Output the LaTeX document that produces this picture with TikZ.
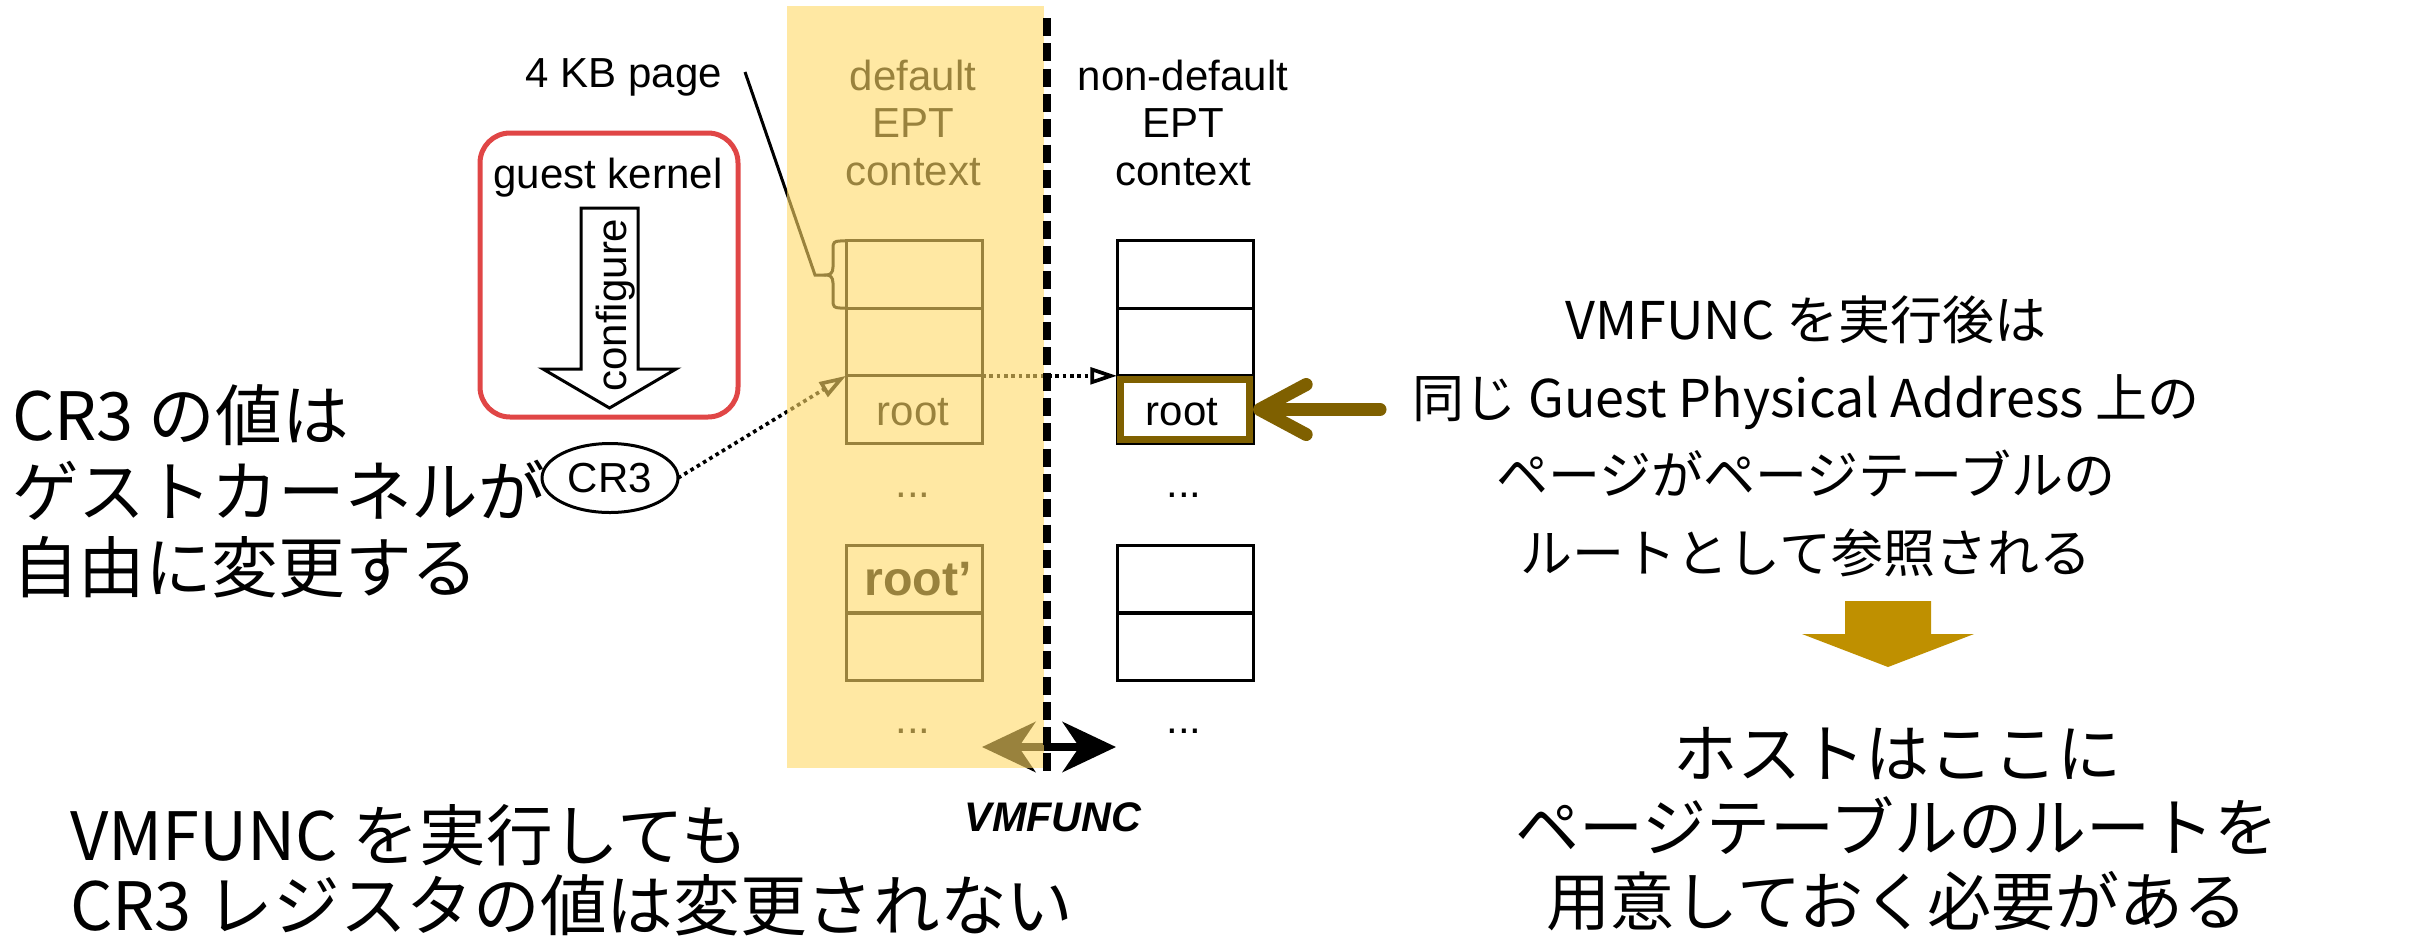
\documentclass[tikz,border=0pt]{standalone}
\usepackage{fontspec}
\setmainfont{Liberation Sans}
\newfontfamily\jp{Noto Sans CJK JP}
\usetikzlibrary{arrows.meta,shapes.geometric}
\definecolor{ovl}{HTML}{FFD966}
\definecolor{darkgold}{HTML}{7F6000}
\definecolor{gold}{HTML}{BF9000}
\definecolor{kred}{HTML}{E04646}
\begin{document}
\begin{tikzpicture}[x=0.3pt,y=-0.3pt,
  lbl/.style={font=\fontsize{12.6}{14}\selectfont, inner sep=0pt, outer sep=0pt},
  big/.style={font=\jp\fontsize{20}{24}\selectfont, inner sep=0pt, outer sep=0pt},
  hostt/.style={font=\jp\fontsize{19.2}{23}\selectfont, inner sep=0pt, outer sep=0pt},
  mid/.style={font=\jp\fontsize{15.6}{19}\selectfont, inner sep=0pt, outer sep=0pt},
  cellbox/.style={draw, line width=0.9pt, minimum width=40.8pt, minimum height=20.2pt, inner sep=0pt, outer sep=0pt},
  dotline/.style={line width=1.1pt, dash pattern=on 1.1pt off 1.1pt},
  opentip/.style={-{Triangle[open,length=8pt,width=5pt]}}
]
\useasboundingbox (0,0) rectangle (2415,940);

% ---------- default EPT context (drawn black, tinted by overlay) ----------
\node[lbl, anchor=base] (dT1) at (913,90) {default};
\node[lbl, anchor=base] (dT2) at (913,137) {EPT};
\node[lbl, anchor=base] (dT3) at (913,185) {context};

\node[cellbox] (dA) at (914,274.5) {};
\node[cellbox] (dB) at (914,342) {};
\node[cellbox] (dRoot) at (914,409.5) {};
\node[lbl, anchor=base] (dRootT) at (913,425) {root};
\node[lbl, anchor=base] (dDots1) at (913,497) {...};
\node[cellbox] (dC) at (914,579) {};
\node[cellbox] (dD) at (914,647) {};
\node[font=\fontsize{14.5}{16}\selectfont\bfseries, inner sep=0pt, anchor=base] (dRootP) at (918,595) {root’};
\node[lbl, anchor=base] (dDots2) at (913,733) {...};

% brace and 4 KB page pointer
\node[lbl, anchor=base] (kb) at (624,87) {4 KB page};
\coordinate (kbL) at (745,72);
\coordinate (brTip) at (815,275);
\draw[line width=0.9pt] (kbL) -- (brTip) -- (826,275);
\draw[line width=0.9pt] (dA.north west) -- (840,241) .. controls (834,241) and (833,243) .. (833,248)
  -- (833,267) .. controls (833,273) and (830,275) .. (826,275)
  .. controls (830,275) and (833,277) .. (833,283) -- (833,301)
  .. controls (833,306) and (834,308) .. (840,308) -- (dA.south west);

% guest kernel
\node[draw=kred, line width=1.5pt, rounded corners=9pt, minimum width=77.4pt, minimum height=85.2pt, inner sep=0pt] (gk) at (609,275) {};
\node[lbl, anchor=base] (gkT) at (608,188) {guest kernel};
\draw[line width=0.9pt, fill=white] (581,208) -- (638,208) -- (638,369) -- (676,369) -- (609.5,408) -- (543,369) -- (581,369) -- cycle;
\node[lbl, anchor=base, rotate=90] (cfg) at (626,305) {configure};

% CR3
\node[draw, ellipse, line width=0.9pt, minimum width=40.8pt, minimum height=20.7pt, inner sep=0pt, lbl] (cr3) at (610,478) {CR3};
\draw[dotline, opentip] (cr3.east) -- (dRoot.north west);

% ---------- non-default EPT context ----------
\node[lbl, anchor=base] (nT1) at (1183,90) {non-default};
\node[lbl, anchor=base] (nT2) at (1183,137) {EPT};
\node[lbl, anchor=base] (nT3) at (1183,185) {context};
\node[cellbox] (nA) at (1185,274.5) {};
\node[cellbox] (nB) at (1185,342) {};
\node[cellbox] (nRoot) at (1185,409.5) {};
\draw[darkgold, line width=2.1pt] ([shift={(3.5,3.5)}]nRoot.north west) rectangle ([shift={(-3.5,-3.5)}]nRoot.south east);
\node[lbl, anchor=base] (nRootT) at (1182,425) {root};
\node[lbl, anchor=base] (nDots1) at (1184,497) {...};
\node[cellbox] (nC) at (1185,579) {};
\node[cellbox] (nD) at (1185,647) {};
\node[lbl, anchor=base] (nDots2) at (1184,733) {...};

\draw[dotline, opentip] (dRoot.north east) -- (nRoot.north west);

% VMFUNC switch arrow
\coordinate (swL) at (982,747);
\coordinate (swR) at (1116,747);
\draw[line width=2.4pt, {Stealth[length=16pt,width=15pt,inset=5pt]}-{Stealth[length=16pt,width=15pt,inset=5pt]}] (swL) -- (swR);
\node[font=\fontsize{12.4}{14}\selectfont\bfseries\itshape, inner sep=0pt, anchor=base] (vmf) at (1053,831) {VMFUNC};

% yellow overlay
\fill[ovl, fill opacity=0.6] (787,6) rectangle (1044,768);

% dashed separator
\coordinate (sepT) at (1047,18);
\coordinate (sepB) at (1047,772);
\draw[line width=2.2pt, dash pattern=on 5.4pt off 2.2pt] (sepT) -- (sepB);

% thick pointer to non-default root
\coordinate (ptS) at (1380,409.5);
\draw[darkgold, line width=3.9pt, line cap=round, -{Straight Barb[length=14pt,width=15pt,round]}] (ptS) -- (nRoot.east);

% ---------- Japanese explanations ----------
\node[big, anchor=base west] (l1) at (12,440) {CR3 の値は};
\node[big, anchor=base west] (l2) at (12,516) {ゲストカーネルが};
\node[big, anchor=base west] (l3) at (12,592) {自由に変更する};

\node[big, anchor=base west] (b1) at (70,860) {VMFUNC を実行しても};
\node[big, anchor=base west] (b2) at (70,930) {CR3 レジスタの値は変更されない};

\node[mid, anchor=base] (r1) at (1806,339) {VMFUNC を実行後は};
\node[mid, anchor=base] (r2) at (1806,417) {同じ Guest Physical Address 上の};
\node[mid, anchor=base] (r3) at (1806,494) {ページがページテーブルの};
\node[mid, anchor=base] (r4) at (1806,572) {ルートとして参照される};

\fill[gold] (1845,601) -- (1931,601) -- (1931,634) -- (1974,634) -- (1888,667) -- (1802,634) -- (1845,634) -- cycle;

\node[hostt, anchor=base] (h1) at (1897,777) {ホストはここに};
\node[hostt, anchor=base] (h2) at (1897,851) {ページテーブルのルートを};
\node[hostt, anchor=base] (h3) at (1897,925) {用意しておく必要がある};
\end{tikzpicture}
\end{document}
